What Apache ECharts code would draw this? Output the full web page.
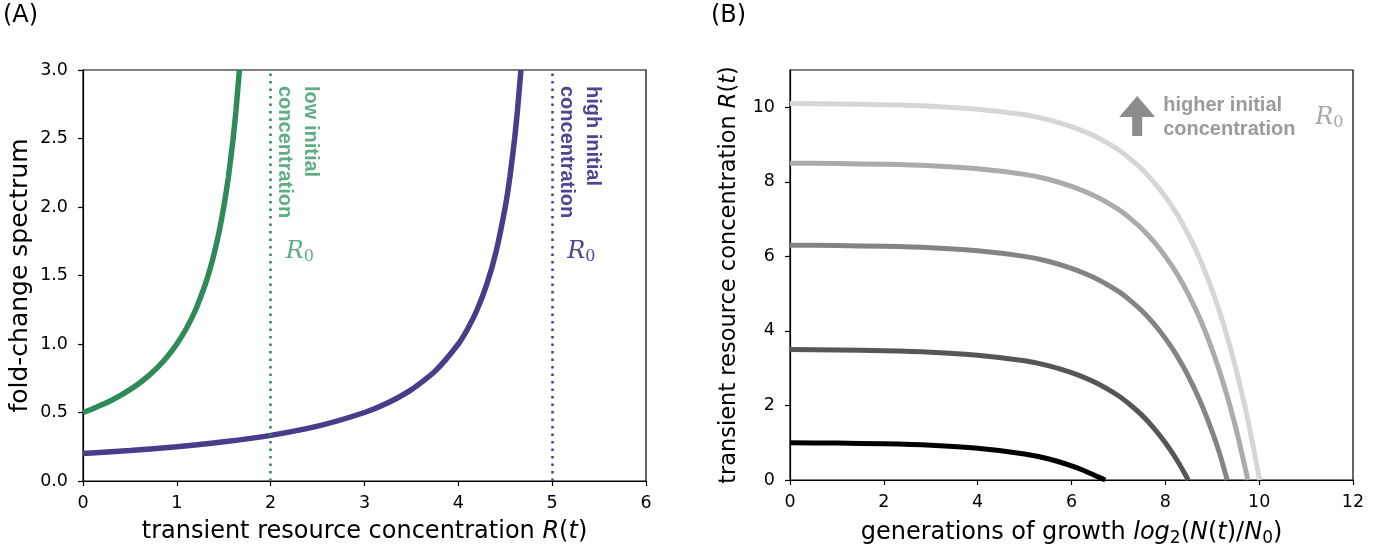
<!DOCTYPE html>
<html>
<head>
<meta charset="utf-8">
<script src="https://cdn.jsdelivr.net/npm/echarts@6/dist/echarts.min.js"></script>
<style>
  html, body { margin: 0; padding: 0; background: #fff; }
  #chart { width: 1391px; height: 546px; }
</style>
</head>
<body>
<div id="chart"></div>
<script>
// (A) fold-change spectrum vs transient resource concentration
const lowR = [0, 0.1, 0.2, 0.3, 0.4, 0.5, 0.6, 0.7, 0.8, 0.9, 1.0, 1.1, 1.2, 1.3, 1.35, 1.4, 1.45, 1.5, 1.55, 1.6, 1.63, 1.667];
const lowFold = [0.5, 0.526, 0.556, 0.588, 0.625, 0.667, 0.714, 0.769, 0.833, 0.909, 1.0, 1.111, 1.25, 1.429, 1.538, 1.667, 1.818, 2.0, 2.222, 2.5, 2.703, 3.0];
const highR = [0, 0.5, 1, 1.5, 2, 2.5, 3, 3.25, 3.5, 3.75, 4, 4.1, 4.2, 4.3, 4.4, 4.5, 4.55, 4.6, 4.63, 4.667];
const highFold = [0.2, 0.222, 0.25, 0.286, 0.333, 0.4, 0.5, 0.571, 0.667, 0.8, 1.0, 1.111, 1.25, 1.429, 1.667, 2.0, 2.222, 2.5, 2.703, 3.0];
const r0Low = 2;
const r0High = 5;

// (B) resource concentration vs generations of growth, one curve per R0
const gen1 = [0, 1, 2, 3, 4, 5, 5.5, 6, 6.25, 6.5, 6.72];
const res1 = [1, 0.99, 0.97, 0.93, 0.85, 0.70, 0.57, 0.38, 0.26, 0.12, 0];
const gen2 = [0, 1, 2, 3, 4, 5, 5.5, 6, 6.5, 7, 7.25, 7.5, 7.75, 8, 8.25, 8.49];
const res2 = [3.5, 3.49, 3.47, 3.43, 3.35, 3.2, 3.07, 2.88, 2.62, 2.26, 2.02, 1.74, 1.40, 1.0, 0.53, 0];
const gen3 = [0, 1, 2, 3, 4, 5, 5.5, 6, 6.5, 7, 7.25, 7.5, 7.75, 8, 8.25, 8.5, 8.75, 9, 9.15, 9.32];
const res3 = [6.3, 6.29, 6.27, 6.23, 6.15, 6.0, 5.87, 5.68, 5.42, 5.06, 4.82, 4.54, 4.2, 3.8, 3.33, 2.76, 2.09, 1.29, 0.74, 0];
const gen4 = [0, 1, 2, 3, 4, 5, 5.5, 6, 6.5, 7, 7.25, 7.5, 7.75, 8, 8.25, 8.5, 8.75, 9, 9.25, 9.5, 9.76];
const res4 = [8.5, 8.49, 8.47, 8.43, 8.35, 8.2, 8.07, 7.88, 7.62, 7.26, 7.02, 6.74, 6.4, 6.0, 5.53, 4.96, 4.29, 3.49, 2.54, 1.41, 0];
const gen5 = [0, 1, 2, 3, 4, 5, 5.5, 6, 6.5, 7, 7.25, 7.5, 7.75, 8, 8.25, 8.5, 8.75, 9, 9.25, 9.5, 9.75, 10.01];
const res5 = [10.1, 10.09, 10.07, 10.03, 9.95, 9.8, 9.67, 9.48, 9.22, 8.86, 8.62, 8.34, 8.0, 7.6, 7.13, 6.56, 5.89, 5.09, 4.14, 3.01, 1.67, 0];

const curvesB = [
  { g: gen1, r: res1, color: '#000000' },
  { g: gen2, r: res2, color: '#565656' },
  { g: gen3, r: res3, color: '#848484' },
  { g: gen4, r: res4, color: '#ababab' },
  { g: gen5, r: res5, color: '#d6d6d6' }
];

const green = '#2e8b57';
const purple = '#483d8b';
const tickFont = { fontFamily: 'DejaVu Sans', fontSize: 17.5, color: '#000' };
const nameFont = { fontFamily: 'DejaVu Sans', fontSize: 24, color: '#000' };

const zip = (xs, ys) => xs.map((x, i) => [x, ys[i]]);

const chart = echarts.init(document.getElementById('chart'));

const axisCommon = {
  axisLine: { show: true, onZero: false, lineStyle: { color: '#000', width: 1.2 } },
  axisTick: { show: true, length: 5, lineStyle: { color: '#000', width: 1.2 } },
  splitLine: { show: false },
  nameLocation: 'middle'
};

// rich styles for the math parts of axis names
const mathRich = (fs) => ({
  i: { fontFamily: 'DejaVu Sans', fontSize: fs, fontStyle: 'italic', color: '#000' },
  s: { fontFamily: 'DejaVu Sans', fontSize: Math.round(fs * 0.7), color: '#000', padding: [Math.round(fs * 0.45), 0, 0, 0] }
});

function line(xs, ys, color, width, xi) {
  return {
    type: 'line', xAxisIndex: xi, yAxisIndex: xi,
    data: zip(xs, ys), showSymbol: false, symbol: 'none',
    smooth: 0.2,
    lineStyle: { color: color, width: width },
    silent: true, animation: false
  };
}

const options = {
  animation: false,
  grid: [
    { left: 83, top: 70, width: 563, height: 411, show: true, borderColor: '#000', borderWidth: 1.2, containLabel: false, outerBoundsMode: 'none' },
    { left: 790, top: 70, width: 563, height: 410, show: true, borderColor: '#000', borderWidth: 1.2, containLabel: false, outerBoundsMode: 'none' }
  ],
  xAxis: [
    Object.assign({}, axisCommon, {
      gridIndex: 0, type: 'value', min: 0, max: 6, interval: 1,
      axisLabel: Object.assign({ margin: 13 }, tickFont),
      name: 'transient resource concentration {i|R}({i|t})', nameGap: 39,
      nameTextStyle: Object.assign({}, nameFont, { rich: mathRich(24) })
    }),
    Object.assign({}, axisCommon, {
      gridIndex: 1, type: 'value', min: 0, max: 12, interval: 2,
      axisLabel: Object.assign({ margin: 13 }, tickFont),
      name: 'generations of growth {i|log}{s|2}({i|N}({i|t})/{i|N}{s|0})', nameGap: 39,
      nameTextStyle: Object.assign({}, nameFont, { rich: mathRich(24) })
    })
  ],
  yAxis: [
    Object.assign({}, axisCommon, {
      gridIndex: 0, type: 'value', min: 0, max: 3, interval: 0.5,
      axisLabel: Object.assign({ margin: 15, formatter: v => v.toFixed(1) }, tickFont),
      name: 'fold-change spectrum', nameGap: 50, nameRotate: 90,
      nameTextStyle: Object.assign({}, nameFont, { fontSize: 25 })
    }),
    Object.assign({}, axisCommon, {
      gridIndex: 1, type: 'value', min: 0, max: 11, interval: 2,
      axisLabel: Object.assign({ margin: 15, showMaxLabel: false }, tickFont),
      name: 'transient resource concentration {i|R}({i|t})', nameGap: 49, nameRotate: 90,
      nameTextStyle: Object.assign({}, nameFont, { fontSize: 22.5, rich: mathRich(22.5) })
    })
  ],
  series: [
    Object.assign(line(lowR, lowFold, green, 5.5, 0), {
      markLine: {
        silent: true, symbol: 'none', label: { show: false },
        lineStyle: { color: green, type: [2.5, 5], width: 2.5 },
        data: [{ xAxis: r0Low }]
      }
    }),
    Object.assign(line(highR, highFold, purple, 5.5, 0), {
      markLine: {
        silent: true, symbol: 'none', label: { show: false },
        lineStyle: { color: purple, type: [2.5, 5], width: 2.5 },
        data: [{ xAxis: r0High }]
      }
    })
  ].concat(curvesB.map(c => line(c.g, c.r, c.color, 5, 1)))
};

chart.setOption(options);

// annotations placed relative to data positions
const pA = (x, y) => chart.convertToPixel({ gridIndex: 0 }, [x, y]);
const pB = (x, y) => chart.convertToPixel({ gridIndex: 1 }, [x, y]);

const boldFont = 'bold 20px "Liberation Sans", Arial, sans-serif';
const r0Rich = (color) => ({
  i: { fontFamily: '"DejaVu Serif", serif', fontStyle: 'italic', fontSize: 24, fill: color },
  s: { fontFamily: '"DejaVu Serif", serif', fontSize: 16, fill: color, padding: [9, 0, 0, 0] }
});

function sideLabel(xData, color, lines) {
  const top = pA(xData, 3);
  const r0 = pA(xData, 1.67);
  return [
    {
      type: 'text', x: top[0] + 53, y: top[1] + 16, rotation: -Math.PI / 2,
      style: { text: lines, font: boldFont, fill: color, lineHeight: 26, align: 'left', verticalAlign: 'top' },
      silent: true
    },
    {
      type: 'text', x: r0[0] + 15, y: r0[1],
      style: { text: '{i|R}{s|0}', rich: r0Rich(color), align: 'left', verticalAlign: 'middle' },
      silent: true
    }
  ];
}

const arrowTip = pB(7.4, 10.3);
const ax = arrowTip[0], ay = arrowTip[1];

chart.setOption({
  graphic: [
    { type: 'text', x: 3, y: 4, style: { text: '(A)', font: '24px "DejaVu Sans"', fill: '#000' } },
    { type: 'text', x: 711, y: 4, style: { text: '(B)', font: '24px "DejaVu Sans"', fill: '#000' } }
  ].concat(
    sideLabel(r0Low, '#5fae83', 'low initial\nconcentration'),
    sideLabel(r0High, '#4f4592', 'high initial\nconcentration'),
    [
      {
        type: 'polygon', silent: true,
        shape: { points: [[ax, ay], [ax + 18, ay + 21], [ax + 5, ay + 21], [ax + 5, ay + 40], [ax - 5, ay + 40], [ax - 5, ay + 21], [ax - 18, ay + 21]] },
        style: { fill: '#8c8c8c' }
      },
      {
        type: 'text', silent: true, x: ax + 26, y: ay - 3,
        style: { text: 'higher initial\nconcentration', font: boldFont, fill: '#9b9b9b', lineHeight: 24, align: 'left', verticalAlign: 'top' }
      },
      {
        type: 'text', silent: true, x: ax + 178, y: ay + 22,
        style: { text: '{i|R}{s|0}', rich: r0Rich('#a9a9a9'), align: 'left', verticalAlign: 'middle' }
      }
    ]
  )
});

window.addEventListener('resize', () => {
  chart.resize();
});
</script>
</body>
</html>
